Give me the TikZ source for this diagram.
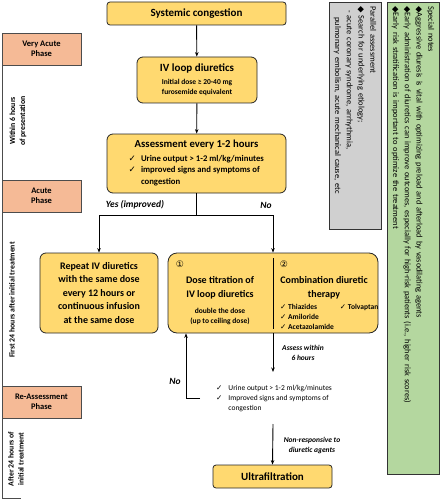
\documentclass[tikz,border=0pt]{standalone}
\usepackage{fontspec}
\setmainfont{Carlito}
\newfontfamily\symfont{DejaVu Sans}
\usetikzlibrary{arrows.meta,positioning}
\definecolor{boxyellow}{HTML}{FFD970}
\definecolor{phasecol}{HTML}{F5BA96}
\definecolor{notegray}{HTML}{D0D0D0}
\definecolor{notegreen}{HTML}{B4D79F}
\newcommand{\ck}{{\symfont ✓}}
\newcommand{\dm}{{\symfont ◆}}

\begin{document}
\begin{tikzpicture}[x=1pt, y=-1pt,
                    main box/.style={draw=black!85, fill=boxyellow, rounded corners=6pt, line width=0.8pt, align=center, inner sep=2pt},
                    phase box/.style={draw=black!70, fill=phasecol, line width=0.8pt, minimum width=79pt, minimum height=32pt, align=center, font=\fontsize{8.5}{10.5}\selectfont\bfseries},
                    note box/.style={draw=black!80, line width=0.8pt, rotate=-90, align=left, inner sep=4pt, font=\fontsize{8.4}{11.7}\selectfont},
                    flow/.style={-{Stealth[length=4.5pt,width=3.5pt]}, line width=0.9pt},
                    lbl/.style={align=center, font=\fontsize{7.5}{10}\selectfont\bfseries\itshape}]
  \useasboundingbox (0,0) rectangle (441,500);

  % phases on the left
  \node[phase box] (p1) at (41.5,49) {Very Acute\\Phase};
  \node[phase box] (p2) at (41.5,196) {Acute\\Phase};
  \node[phase box] (p3) at (41.5,402) {Re-Assessment\\Phase};
  \draw[line width=0.8pt, black!70] ([xshift=1pt]p1.south west) -- ([xshift=1pt]p2.north west);
  \draw[line width=0.8pt, black!70] ([xshift=1pt]p2.south west) -- ([xshift=1pt]p3.north west);
  \draw[line width=0.8pt, black!70] ([xshift=1pt]p3.south west) -- ++(0,80) -- ++(18,0);
  \node[rotate=90, align=center, font=\fontsize{7.8}{10}\selectfont\bfseries] (t1) at (18,121) {Within 6 hours\\of presentation};
  \node[rotate=90, font=\fontsize{7.8}{10}\selectfont\bfseries] (t2) at (12,300) {First 24 hours after initial treatment};
  \node[rotate=90, align=center, font=\fontsize{7.8}{10}\selectfont\bfseries] (t3) at (16,459) {After 24 hours of\\initial treatment};

  % main flow
  \node[main box, rounded corners=3pt, minimum width=179pt, minimum height=23pt, font=\fontsize{11}{12}\selectfont\bfseries] (sys) at (196.5,13.5) {Systemic congestion};
  \node[main box, minimum width=120pt, minimum height=46pt, font=\fontsize{7.5}{10}\selectfont\bfseries] (iv) at (197,80)
    {{\fontsize{11}{12}\selectfont IV loop diuretics}\\[3pt] Initial dose ≥ 20-40 mg\\ furosemide equivalent};
  \node[main box, minimum width=179pt, minimum height=59pt, font=\fontsize{8.7}{11.5}\selectfont\bfseries] (assess) at (196.5,163.5)
    {\begin{tabular}{@{}l@{\hspace{5pt}}l@{}}
      \multicolumn{2}{c}{\fontsize{10.7}{12}\selectfont Assessment every 1-2 hours}\\[2pt]
      \ck & Urine output > 1-2 ml/kg/minutes\\
      \ck & improved signs and symptoms of\\
          & congestion
     \end{tabular}};
  \node[main box, minimum width=118pt, minimum height=80pt, font=\fontsize{10}{13.5}\selectfont\bfseries] (repeat) at (99,293)
    {Repeat IV diuretics\\ with the same dose\\ every 12 hours or\\ continuous infusion\\ at the same dose};
  \node[main box, rounded corners=9pt, minimum width=210pt, minimum height=80pt] (combo) at (273,293) {};
  \draw[line width=0.8pt] (273,258) -- (273,329);
  \node[font=\symfont\fontsize{9}{10}\selectfont] (n1) at (180,264) {①};
  \node[align=center, font=\fontsize{10}{13.5}\selectfont\bfseries] (titr) at (220,288) {Dose titration of\\IV loop diuretics};
  \node[align=center, font=\fontsize{7.5}{10}\selectfont\bfseries] (dbl) at (220,316.5) {double the dose\\(up to ceiling dose)};
  \node[font=\symfont\fontsize{9}{10}\selectfont] (n2) at (284,264) {②};
  \node[align=center, font=\fontsize{10}{13.5}\selectfont\bfseries] (comb) at (324,288) {Combination diuretic\\therapy};
  \node[anchor=north west, inner sep=0pt, font=\fontsize{7.5}{10}\selectfont\bfseries] (agents) at (280,302)
    {\begin{tabular}{@{}l@{\hspace{6pt}}l@{}}
      \ck\ Thiazides & \ck\ Tolvaptan\\
      \ck\ Amiloride & \\
      \ck\ Acetazolamide &
     \end{tabular}};
  \node[anchor=west, inner sep=2pt, font=\fontsize{7.5}{10}\selectfont] (recheck) at (214,398)
    {\begin{tabular}{@{}l@{\hspace{6pt}}l@{}}
      \ck & Urine output > 1-2 ml/kg/minutes\\
      \ck & Improved signs and symptoms of\\
          & congestion
     \end{tabular}};
  \node[main box, rounded corners=3pt, minimum width=119pt, minimum height=23pt, font=\fontsize{11}{12}\selectfont\bfseries] (ultra) at (272.5,476.5) {Ultrafiltration};

  % notes on the right
  \node[note box, fill=notegray, minimum width=227pt, minimum height=52pt, text width=218pt] (par) at (355,115.5)
    {Parallel assessment\\
     \dm\ Search for underlying etiology;\\
     \hspace*{4pt}- acute coronary syndrome, arrhythmia,\\
     \hspace*{11pt}pulmonary embolism, acute mechanical cause, etc};
  \node[note box, fill=notegreen, minimum width=472pt, minimum height=52pt, text width=463pt] (spec) at (413,238)
    {Special notes\\
     \dm Aggressive diuresis is vital with optimizing preload and afterload by vasodilating agents\\
     \dm Early administration of diuretics can improve outcomes, especially for high-risk patients (i.e., higher risk scores)\\
     \dm Early risk stratification is important to optimize the treatment};

  % connectors
  \coordinate (split) at (196.5,215);
  \coordinate (a1) at (273,372);
  \coordinate (a2) at (273,424);
  \draw[flow] (sys) -- (iv);
  \draw[flow] (iv) -- (assess);
  \draw[line width=0.9pt] (assess.south) -- (split);
  \draw[flow] (split) -| (repeat.north);
  \draw[flow] (split) -| (combo.north);
  \draw[flow] (combo.south) -- (a1);
  \draw[flow] ([xshift=-14pt]recheck.west) -| ([xshift=-87pt]combo.south);
  \draw[flow] (a2) -- (ultra.north);

  \node[font=\fontsize{9.5}{11}\selectfont\bfseries\itshape] (yes) at (135,205) {Yes (improved)};
  \node[font=\fontsize{9.5}{11}\selectfont\bfseries\itshape] (no1) at (266,205) {No};
  \node[font=\fontsize{9.5}{11}\selectfont\bfseries\itshape] (no2) at (175,381) {No};
  \node[lbl] (asw) at (303,353) {Assess within\\6 hours};
  \node[lbl] (nonr) at (312,445) {Non-responsive to\\diuretic agents};
\end{tikzpicture}
\end{document}
